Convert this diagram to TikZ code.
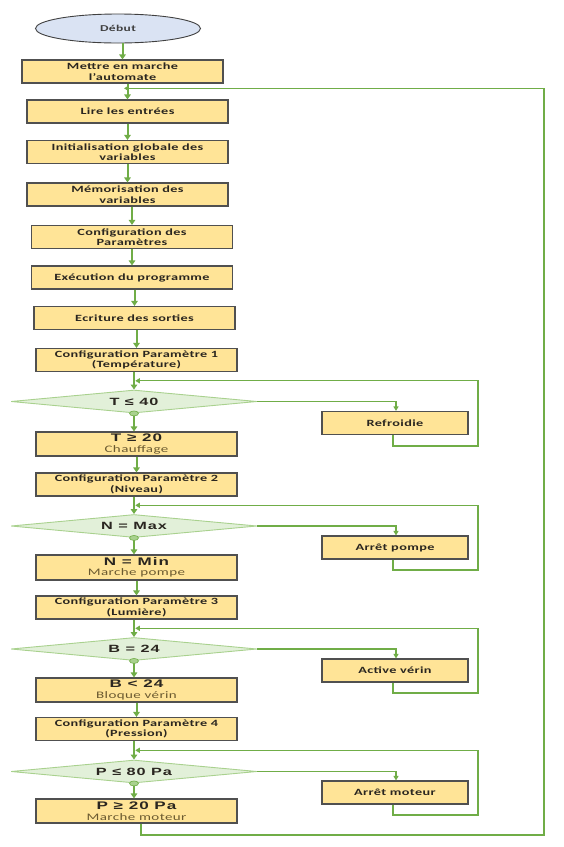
\documentclass[tikz,border=0pt]{standalone}
\usepackage{fontspec}
\setmainfont{Carlito}
\newfontfamily\boxfont[FakeStretch=1.5,LetterSpace=4]{Carlito}
\newfontfamily\bigfont[FakeStretch=1.55,LetterSpace=9]{Liberation Sans}
\usetikzlibrary{shapes.geometric,arrows.meta,calc}
\definecolor{boxfill}{HTML}{FFE497}
\definecolor{boxline}{HTML}{505050}
\definecolor{boxtext}{HTML}{2A2620}
\definecolor{subtext}{HTML}{6B5A30}
\definecolor{flowgreen}{HTML}{70AD47}
\definecolor{decfill}{HTML}{E2F0D9}
\definecolor{decline}{HTML}{A9D18E}
\definecolor{startfill}{HTML}{DAE3F3}
\definecolor{startline}{HTML}{404040}
\tikzset{
  proc/.style={draw=boxline, fill=boxfill, line width=1.1pt, minimum width=201pt,
    minimum height=23pt, inner sep=0pt, align=center, text=boxtext,
    font=\boxfont\bfseries\fontsize{9.5}{10.5}\selectfont},
  side/.style={proc, minimum width=146pt},
  dec/.style={diamond, draw=decline, fill=decfill, line width=0.9pt, minimum width=246pt,
    minimum height=23pt, aspect=10.7, inner sep=0pt, text=boxtext,
    font=\bigfont\bfseries\fontsize{10.5}{12}\selectfont},
  dot/.style={ellipse, draw=flowgreen, fill=decline, line width=0.6pt, minimum width=9pt,
    minimum height=5pt, inner sep=0pt},
  flow/.style={draw=flowgreen, line width=2pt, -{Triangle[length=5pt,width=6.5pt]}},
  back/.style={draw=flowgreen, line width=1.1pt, -{Triangle[length=4.5pt,width=5pt]}},
}
\newcommand{\twoline}[2]{{\bigfont\bfseries\fontsize{11}{12.5}\selectfont #1}\\{\boxfont\mdseries\fontsize{10}{11}\selectfont\color{subtext}#2}}
\begin{document}
\begin{tikzpicture}[x=1pt,y=-1pt]
\useasboundingbox (0,0) rectangle (563,847);
\fill[white] (0,0) rectangle (563,847);
% main column
\node[ellipse, draw=startline, fill=startfill, line width=0.9pt, minimum width=165pt,
  minimum height=29pt, inner sep=0pt, text=startline,
  font=\boxfont\bfseries\fontsize{9}{10}\selectfont] (start) at (118,28.5) {Début};
\node[proc] (m1) at (122.5,71.5) {Mettre en marche\\l’automate};
\node[proc] (m2) at (127.5,111.5) {Lire les entrées};
\node[proc] (m3) at (127.5,152) {Initialisation globale des\\variables};
\node[proc] (m4) at (127.5,194.5) {Mémorisation des\\variables};
\node[proc] (m5) at (132,237) {Configuration des\\Paramètres};
\node[proc] (m6) at (132,277.5) {Exécution du programme};
\node[proc] (m7) at (134.5,318) {Ecriture des sorties};
\node[proc] (p1) at (136.5,360) {Configuration Paramètre 1\\(Température)};
\node[dec] (d1) at (134,401.5) {T ≤ 40};
\node[proc, minimum height=24pt] (r1) at (136.5,444) {\twoline{T ≥ 20}{Chauffage}};
\node[proc] (p2) at (136.5,484.5) {Configuration Paramètre 2\\(Niveau)};
\node[dec] (d2) at (134,526) {N = Max};
\node[proc, minimum height=25pt] (r2) at (136.5,567.5) {\twoline{N = Min}{Marche pompe}};
\node[proc] (p3) at (136.5,607.5) {Configuration Paramètre 3\\(Lumière)};
\node[dec] (d3) at (134,649) {B = 24};
\node[proc, minimum height=24pt] (r3) at (136.5,690) {\twoline{B < 24}{Bloque vérin}};
\node[proc] (p4) at (136.5,729) {Configuration Paramètre 4\\(Pression)};
\node[dec] (d4) at (134,771.5) {P ≤ 80 Pa};
\node[proc, minimum height=24pt] (r4) at (136.5,811) {\twoline{P ≥ 20 Pa}{Marche moteur}};
% side boxes
\node[side] (s1) at (395,423) {Refroidie};
\node[side] (s2) at (395,547.5) {Arrêt pompe};
\node[side] (s3) at (395,670.5) {Active vérin};
\node[side] (s4) at (395,792.5) {Arrêt moteur};
% main arrows
\draw[flow] (m1.north |- start.south) -- (m1.north);
\draw[flow] (m2.north |- m1.south) -- (m2.north);
\draw[flow] (m3.north |- m2.south) -- (m3.north);
\draw[flow] (m4.north |- m3.south) -- (m4.north);
\draw[flow] (m5.north |- m4.south) -- (m5.north);
\draw[flow] (m6.north |- m5.south) -- (m6.north);
\draw[flow] (m7.north |- m6.south) -- (m7.north);
\draw[flow] (p1.north |- m7.south) -- (p1.north);
\draw[flow] (d1.north |- p1.south) -- (d1.north);
\draw[flow] (d1.south) -- (d1.south |- r1.north);
\draw[flow] (p2.north |- r1.south) -- (p2.north);
\draw[flow] (d2.north |- p2.south) -- (d2.north);
\draw[flow] (d2.south) -- (d2.south |- r2.north);
\draw[flow] (p3.north |- r2.south) -- (p3.north);
\draw[flow] (d3.north |- p3.south) -- (d3.north);
\draw[flow] (d3.south) -- (d3.south |- r3.north);
\draw[flow] (p4.north |- r3.south) -- (p4.north);
\draw[flow] (d4.north |- p4.south) -- (d4.north);
\draw[flow] (d4.south) -- (d4.south |- r4.north);
% "yes" dots
\node[dot] (k1) at (d1.south) {};
\node[dot] (k2) at (d2.south) {};
\node[dot] (k3) at (d3.south) {};
\node[dot] (k4) at (d4.south) {};
% branches to side boxes
\draw[back] (d1.east) -| ([xshift=1pt]s1.north);
\draw[back] (d2.east) -| ([xshift=1pt]s2.north);
\draw[back] (d3.east) -| ([xshift=1pt]s3.north);
\draw[back] (d4.east) -| ([xshift=1pt]s4.north);
% side loops
\coordinate (j1) at ($(p1.south)!0.5!(d1.north)$);
\coordinate (j2) at ($(p2.south)!0.5!(d2.north)$);
\coordinate (j3) at ($(p3.south)!0.5!(d3.north)$);
\coordinate (j4) at ($(p4.south)!0.5!(d4.north)$);
\coordinate (c1) at (478,446);
\coordinate (c2) at (478,570);
\coordinate (c3) at (478,693);
\coordinate (c4) at (478,815);
\draw[back] ([xshift=-2pt]s1.south) |- (c1) |- (j1);
\draw[back] ([xshift=-2pt]s2.south) |- (c2) |- (j2);
\draw[back] ([xshift=-2pt]s3.south) |- (c3) |- (j3);
\draw[back] ([xshift=-2pt]s4.south) |- (c4) |- (j4);
% big loop
\coordinate (jtop) at ($(m1.south)!0.3!(m2.north)$);
\coordinate (bl) at (544,835);
\draw[back] ([xshift=4.5pt]r4.south) |- (bl) |- (jtop);
\end{tikzpicture}
\end{document}
